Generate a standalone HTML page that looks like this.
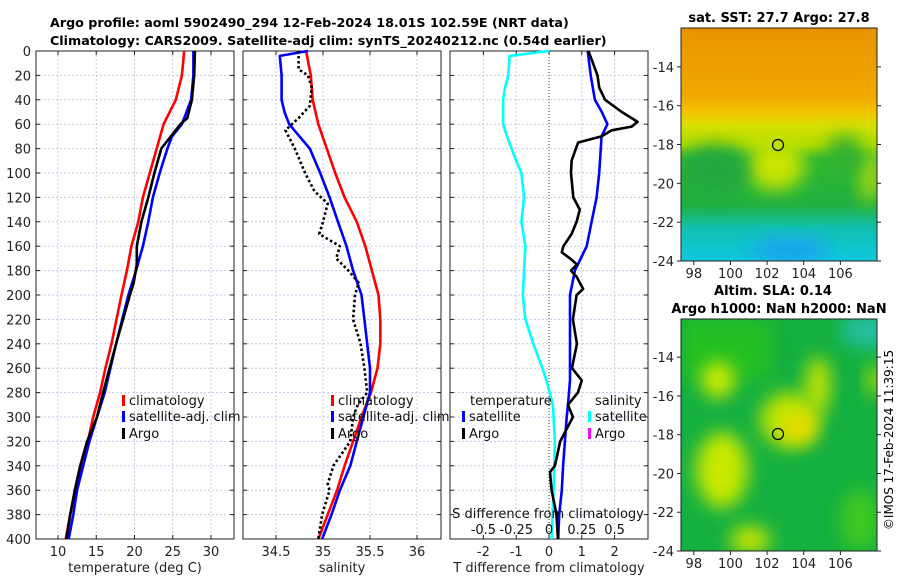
<!DOCTYPE html>
<html><head><meta charset="utf-8"><style>
body{margin:0;background:#fff;width:900px;height:580px;overflow:hidden;font-family:"DejaVu Sans","Liberation Sans",sans-serif}
svg text{font-family:"DejaVu Sans","Liberation Sans",sans-serif}
</style></head><body>
<svg id="c" width="900" height="580" viewBox="0 0 900 580" xmlns="http://www.w3.org/2000/svg">
<defs>
<linearGradient id="sstg" x1="0" y1="0" x2="0" y2="1">
<stop offset="0" stop-color="#e89400"/><stop offset="0.3" stop-color="#f0aa00"/><stop offset="0.36" stop-color="#f4c400"/><stop offset="0.42" stop-color="#d8e000"/><stop offset="0.5" stop-color="#b0dc00"/><stop offset="0.56" stop-color="#30b830"/><stop offset="0.76" stop-color="#20b040"/><stop offset="0.86" stop-color="#10c0b0"/><stop offset="1" stop-color="#10c8e0"/>
</linearGradient>
<filter id="bl" x="-50%" y="-50%" width="200%" height="200%"><feGaussianBlur stdDeviation="9"/></filter>
<clipPath id="m1"><rect x="681" y="28" width="196" height="233"/></clipPath>
<clipPath id="m2"><rect x="681" y="319" width="196" height="232"/></clipPath>
</defs>
<text x="50" y="27" font-size="12.7" font-weight="bold">Argo profile: aoml 5902490_294 12-Feb-2024 18.01S 102.59E (NRT data)</text>
<text x="50" y="45" font-size="12.7" font-weight="bold">Climatology: CARS2009. Satellite-adj clim: synTS_20240212.nc (0.54d earlier)</text>
<g id="g"></g>
<g>
<text x="779" y="22" font-size="13" font-weight="bold" text-anchor="middle">sat. SST: 27.7 Argo: 27.8</text>
<g clip-path="url(#m1)">
<rect x="681" y="28" width="196" height="233" fill="url(#sstg)"/>
<ellipse cx="775" cy="165" rx="30" ry="25" fill="#c8e400" filter="url(#bl)"/>
<ellipse cx="870" cy="175" rx="10" ry="28" fill="#b0dc10" filter="url(#bl)"/>
<ellipse cx="715" cy="170" rx="35" ry="25" fill="#20a840" filter="url(#bl)"/>
<ellipse cx="845" cy="155" rx="18" ry="20" fill="#30b030" filter="url(#bl)"/>
<ellipse cx="790" cy="250" rx="40" ry="12" fill="#1aa0f0" filter="url(#bl)"/>
</g>
<rect x="681" y="28" width="196" height="233" fill="none" stroke="#222" stroke-width="1"/>
<circle cx="778" cy="145" r="5.5" fill="none" stroke="#000" stroke-width="1.2"/>
</g>
<g>
<text x="773" y="295" font-size="13" font-weight="bold" text-anchor="middle">Altim. SLA: 0.14</text>
<text x="779" y="313" font-size="13" font-weight="bold" text-anchor="middle">Argo h1000: NaN h2000: NaN</text>
<g clip-path="url(#m2)">
<rect x="681" y="319" width="196" height="232" fill="#14b040"/>
<rect x="681" y="319" width="90" height="60" fill="#20c020" filter="url(#bl)"/>
<ellipse cx="870" cy="330" rx="30" ry="18" fill="#20c0a0" filter="url(#bl)"/>
<ellipse cx="718" cy="380" rx="17" ry="18" fill="#d0ec00" filter="url(#bl)"/>
<ellipse cx="790" cy="420" rx="30" ry="28" fill="#c0e400" filter="url(#bl)"/>
<ellipse cx="818" cy="385" rx="12" ry="28" fill="#c8e600" filter="url(#bl)"/>
<ellipse cx="800" cy="428" rx="14" ry="14" fill="#f0d800" filter="url(#bl)"/>
<ellipse cx="722" cy="470" rx="26" ry="38" fill="#c8e800" filter="url(#bl)"/>
<ellipse cx="750" cy="540" rx="20" ry="14" fill="#c8e600" filter="url(#bl)"/>
<ellipse cx="860" cy="520" rx="20" ry="30" fill="#40c820" filter="url(#bl)"/>
<ellipse cx="875" cy="380" rx="8" ry="16" fill="#b0e000" filter="url(#bl)"/>
</g>
<rect x="681" y="319" width="196" height="232" fill="none" stroke="#222" stroke-width="1"/>
<circle cx="778" cy="434" r="5.5" fill="none" stroke="#000" stroke-width="1.2"/>
</g>
<text transform="translate(893,440) rotate(-90)" font-size="12" text-anchor="middle">©IMOS 17-Feb-2024 11:39:15</text>
</svg>
<script>
// ---- data ----
const depthTicks=[0,20,40,60,80,100,120,140,160,180,200,220,240,260,280,300,320,340,360,380,400];
const tTicks=[10,15,20,25,30];
const sTicks=[34.5,35,35.5,36];
const dTicks=[-2,-1,0,1,2];
const sdTickLabels=["-0.5","-0.25","0","0.25","0.5"];
const sdTickVals=[-0.5,-0.25,0,0.25,0.5];
const mapLatTicks=[-14,-16,-18,-20,-22,-24];
const mapLonTicks=[98,100,102,104,106];

const tClimDepth=[0,20,40,60,80,100,120,140,160,180,200,240,260,280,300,320,340,360,380,400];
const tClim=[26.5,26.2,25.4,23.8,22.9,22.0,21.1,20.5,19.6,19.0,18.3,17.0,16.2,15.5,14.6,13.9,13.1,12.3,11.6,11.0];
const tSatDepth=[0,20,40,60,70,80,100,120,140,160,180,200,240,280,300,320,340,360,380,400];
const tSat=[27.7,27.7,27.4,26.2,24.9,24.3,23.3,22.4,21.8,21.1,20.2,19.2,17.6,16.1,15.1,14.1,13.3,12.5,12.0,11.4];
const tArgoDepth=[0,20,40,55,60,80,100,120,140,160,175,190,200,240,280,300,320,340,360,380,400];
const tArgo=[27.9,27.8,27.5,26.9,26.0,23.5,22.6,21.8,20.9,20.3,20.3,19.9,19.4,17.6,15.9,15.1,13.8,12.9,12.2,11.6,11.1];

const sClimDepth=[0,20,40,60,80,100,120,140,160,180,200,220,240,260,280,300,320,340,360,380,400];
const sClim=[34.82,34.87,34.89,34.95,35.04,35.13,35.23,35.36,35.45,35.52,35.59,35.61,35.61,35.58,35.51,35.41,35.32,35.23,35.15,35.05,34.95];
const sSatDepth=[0,4,20,40,50,60,80,100,120,140,160,180,200,220,240,260,280,300,320,340,360,380,400];
const sSat=[34.84,34.54,34.56,34.56,34.59,34.64,34.86,34.97,35.07,35.16,35.25,35.32,35.41,35.44,35.47,35.5,35.5,35.43,35.36,35.29,35.18,35.09,34.99];
const sArgoDepth=[0,15,20,30,45,55,65,80,100,115,125,140,150,160,170,180,190,200,220,240,260,280,290,300,320,340,355,360,380,400];
const sArgo=[34.74,34.74,34.84,34.88,34.86,34.74,34.6,34.7,34.81,34.91,35.05,35.0,34.96,35.18,35.14,35.27,35.38,35.34,35.32,35.40,35.44,35.47,35.37,35.32,35.29,35.11,35.05,35.07,34.99,34.95];

const dSsatDepth=[0,4,20,30,40,60,70,90,100,120,140,160,180,200,220,240,260,270,290,320,360,400];
const dSsat=[0,-0.30,-0.31,-0.335,-0.35,-0.35,-0.32,-0.25,-0.21,-0.19,-0.21,-0.18,-0.19,-0.2,-0.18,-0.12,-0.05,-0.02,0.03,0.045,0.035,0.02];
const dTsatDepth=[0,20,40,50,60,70,80,100,120,140,160,180,200,270,290,300,340,360,380,400];
const dTsat=[1.18,1.27,1.40,1.61,1.78,1.6,1.58,1.53,1.45,1.3,1.15,0.79,0.64,0.64,0.58,0.54,0.43,0.39,0.31,0.28];
const dTargoDepth=[0,10,20,30,40,50,58,62,65,70,75,80,90,100,120,130,140,150,160,165,170,175,180,185,190,195,200,220,240,260,270,280,290,300,320,340,345,360,380,400];
const dTargo=[1.2,1.34,1.48,1.53,1.71,2.22,2.7,2.52,1.91,1.6,0.89,0.82,0.69,0.67,0.74,0.94,0.84,0.69,0.44,0.39,0.64,0.85,0.67,0.84,0.94,1.04,0.84,0.73,0.85,0.7,1.0,0.88,0.58,0.73,0.34,0.18,0.03,0.08,0.23,0.27];

// ---- drawing ----
const NS='http://www.w3.org/2000/svg';
const G=document.getElementById('g');
function el(t,a,p){const e=document.createElementNS(NS,t);for(const k in a)e.setAttribute(k,a[k]);(p||G).appendChild(e);return e;}
const Y0=51,Y1=539;
const yD=d=>Y0+(d/400)*(Y1-Y0);
function lin(d0,d1,r0,r1){return v=>r0+(v-d0)/(d1-d0)*(r1-r0);}
const xT=lin(10,30,58,211);
const xS=lin(34.5,35.5,276,370);
const xD=lin(0,1,549,581.8);
const xSD=v=>xD(v*4);
const panels=[{x0:36,x1:234,name:'temperature-panel',sx:xT,ticks:tTicks,label:'temperature (deg C)'},
{x0:243,x1:441,name:'salinity-panel',sx:xS,ticks:sTicks,label:'salinity'},
{x0:450,x1:648,name:'difference-panel',sx:xD,ticks:dTicks,label:'T difference from climatology'}];
panels.forEach((p,i)=>{
  const g=el('g',{});
  
  
  depthTicks.forEach(d=>{
    const l=el('line',{x1:p.x0,x2:p.x1,y1:yD(d),y2:yD(d),stroke:'#c4c8e8','stroke-width':1,'stroke-dasharray':'2,2'},g);
    
    
    el('line',{x1:p.x0,x2:p.x0+4,y1:yD(d),y2:yD(d),stroke:'#222'},g);
    el('line',{x1:p.x1-4,x2:p.x1,y1:yD(d),y2:yD(d),stroke:'#222'},g);
    if(i===0){const t=el('text',{x:31,y:yD(d)+5,'font-size':13,'text-anchor':'end',fill:'#222'},g);t.textContent=d;
      
      }
  });
  p.ticks.forEach(v=>{
    const x=p.sx(v);
    const l=el('line',{x1:x,x2:x,y1:Y0,y2:Y1,stroke:(i===2&&v===0)?'#333':'#c4c8e8','stroke-width':1,'stroke-dasharray':(i===2&&v===0)?'1,2':'2,2'},g);
    
    
    el('line',{x1:x,x2:x,y1:Y1,y2:Y1-4,stroke:'#222'},g);
    el('line',{x1:x,x2:x,y1:Y0,y2:Y0+4,stroke:'#222'},g);
    const t=el('text',{x:x,y:556,'font-size':13,'text-anchor':'middle',fill:'#222'},g);t.textContent=v;
    
    
  });
  const al=el('text',{x:(p.x0+p.x1)/2,y:572,'font-size':13,'text-anchor':'middle',fill:'#222'},g);al.textContent=p.label;
  
  
  el('rect',{x:p.x0,y:Y0,width:p.x1-p.x0,height:Y1-Y0,fill:'none',stroke:'#222','stroke-width':1},g);
});
function line(xs,ds,sx,color,name,dash){
  const pts=xs.map((v,i)=>sx(v).toFixed(1)+','+yD(ds[i]).toFixed(1)).join(' ');
  const pl=el('polyline',{points:pts,fill:'none',stroke:color,'stroke-width':2.6,'stroke-linejoin':'round'});
  if(dash)pl.setAttribute('stroke-dasharray',dash);
  
  
}
line(tClim,tClimDepth,xT,'#ff0000','temp-climatology-line');
line(tSat,tSatDepth,xT,'#0000ff','temp-satellite-line');
line(tArgo,tArgoDepth,xT,'#000','temp-argo-line');
line(sClim,sClimDepth,xS,'#ff0000','sal-climatology-line');
line(sSat,sSatDepth,xS,'#0000ff','sal-satellite-line');
line(sArgo,sArgoDepth,xS,'#000','sal-argo-line','2.5,2.5');
line(dSsat,dSsatDepth,xSD,'#00ffff','sdiff-satellite-line');
line(dTsat,dTsatDepth,xD,'#0000ff','tdiff-satellite-line');
line(dTargo,dTargoDepth,xD,'#000','tdiff-argo-line');

function legend(x,y,color,label,name){
  const g=el('g',{});
  
  
  if(color)el('rect',{x:x,y:y-10,width:3,height:11,fill:color},g);
  const t=el('text',{x:x+7,y:y,'font-size':13,fill:'#111'},g);t.textContent=label;
}
legend(122,405,'#ff0000','climatology','legend-climatology');
legend(122,421,'#0000ff','satellite-adj. clim','legend-satellite');
legend(122,438,'#000','Argo','legend-argo');
legend(331,405,'#ff0000','climatology','legend-climatology-sal');
legend(331,421,'#0000ff','satellite-adj. clim','legend-satellite-sal');
legend(331,438,'#000','Argo','legend-argo-sal');
legend(463,405,null,'temperature','legend-temperature-heading');
legend(462,421,'#0000ff','satellite','legend-temp-satellite');
legend(462,438,'#000','Argo','legend-temp-argo');
legend(588,405,null,'salinity','legend-salinity-heading');
legend(588,421,'#00ffff','satellite','legend-sal-satellite');
legend(588,438,'#ff00ff','Argo','legend-sal-argo');
const st=el('text',{x:548,y:518,'font-size':13,'text-anchor':'middle',fill:'#111'});st.textContent='S difference from climatology';


sdTickVals.forEach((v,i)=>{
  const t=el('text',{x:xSD(v),y:534,'font-size':13,'text-anchor':'middle',fill:'#111'});t.textContent=sdTickLabels[i];
  
  
});
const latY1=lin(-12,-24,28,261), latY2=lin(-12.03,-24,319,551), lonX=lin(97.3,108,681,877);
[[latY1,261],[latY2,551]].forEach(([fy,yb])=>{
  mapLatTicks.forEach(v=>{
    el('line',{x1:677,x2:681,y1:fy(v),y2:fy(v),stroke:'#222'});
    el('line',{x1:877,x2:881,y1:fy(v),y2:fy(v),stroke:'#222'});
    const t=el('text',{x:674,y:fy(v)+5,'font-size':13,'text-anchor':'end',fill:'#222'});t.textContent=v;
    
    
  });
  mapLonTicks.forEach(v=>{
    el('line',{x1:lonX(v),x2:lonX(v),y1:yb,y2:yb+4,stroke:'#222'});
    const t=el('text',{x:lonX(v),y:yb+17,'font-size':13,'text-anchor':'middle',fill:'#222'});t.textContent=v;
    
    
  });
});
</script>
</body></html>
